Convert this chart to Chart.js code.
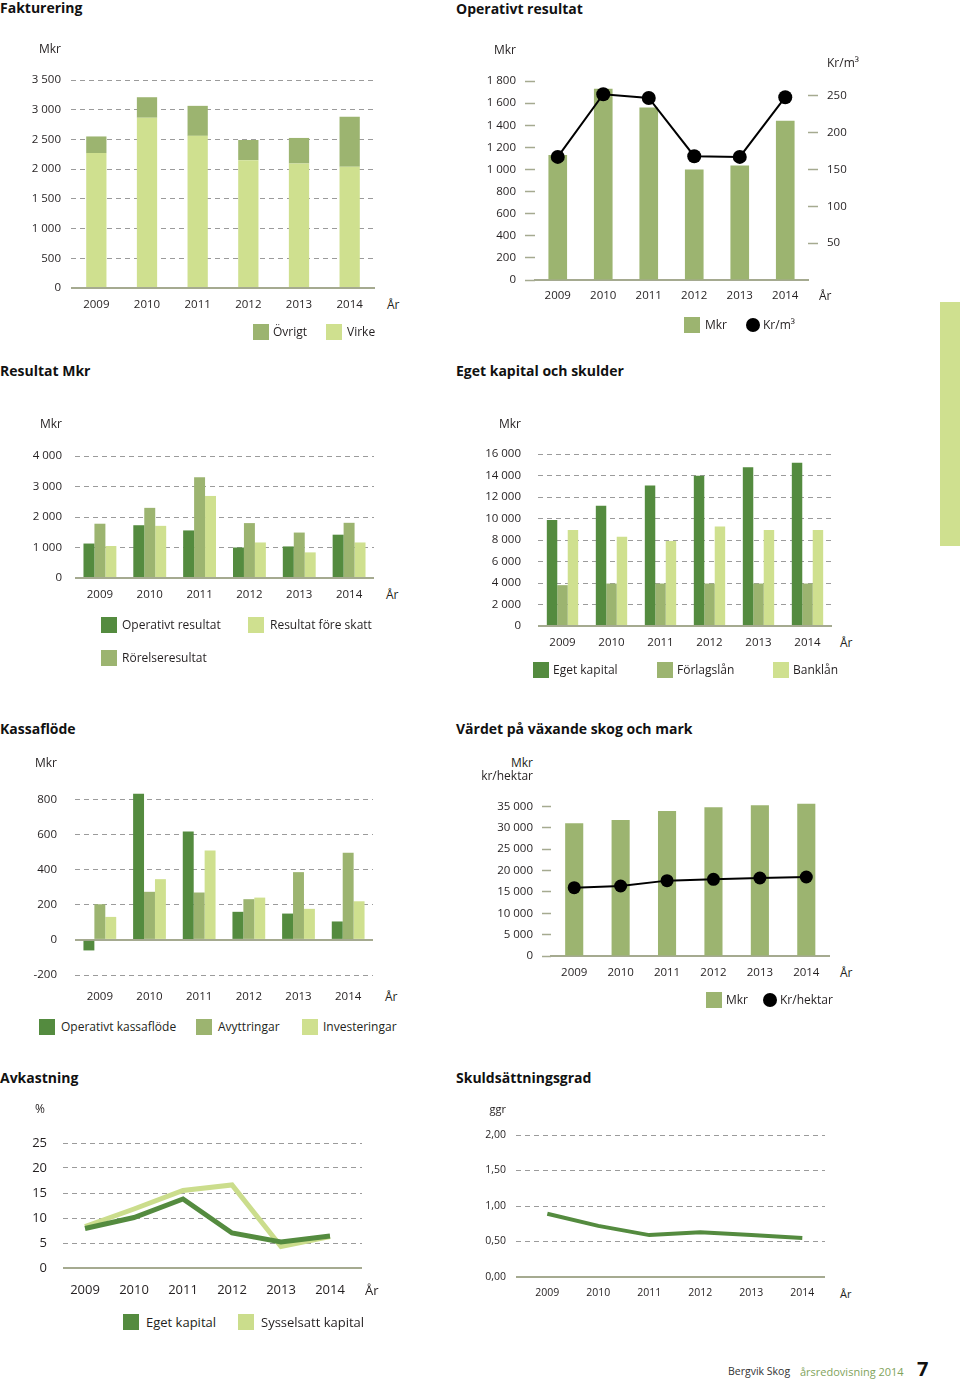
<!DOCTYPE html>
<html><head><meta charset="utf-8">
<script src="https://cdn.jsdelivr.net/npm/chart.js@4.4.1/dist/chart.umd.min.js"></script>
<style>
body{margin:0;width:960px;height:1382px;position:relative;background:#fff;font-family:'Open Sans',sans-serif;color:#231f20;overflow:hidden}
.t{position:absolute;white-space:nowrap;line-height:1;transform:translateY(-50%);font-size:12px}
.t.r{transform:translate(-100%,-50%)}
.h{font-weight:700;font-size:14px;color:#111}
.sq{position:absolute;width:16px;height:16px;transform:translateY(-50%)}
.dot{position:absolute;width:14px;height:14px;border-radius:50%;background:#000;transform:translate(-50%,-50%)}
</style></head><body>
<script>
// ---------- data ----------
const years = ['2009','2010','2011','2012','2013','2014'];
// Fakturering (Mkr)
const faktVirke  = [2270, 2865, 2560, 2150, 2095, 2040];
const faktOvrigt = [280, 345, 505, 340, 430, 840];
const faktTicks  = [0, 500, 1000, 1500, 2000, 2500, 3000, 3500];
// Operativt resultat
const opResMkr   = [1130, 1730, 1560, 1000, 1035, 1440];
const opResKrM3  = [167, 252, 247, 168, 167, 248];
const opResTicksL = [0, 200, 400, 600, 800, 1000, 1200, 1400, 1600, 1800];
const opResTicksR = [50, 100, 150, 200, 250];
// Resultat Mkr
const resOperativt = [1130, 1730, 1560, 1000, 1035, 1420];
const resRorelse   = [1780, 2300, 3300, 1800, 1490, 1810];
const resForeSkatt = [1050, 1710, 2690, 1165, 840, 1165];
const resTicks     = [0, 1000, 2000, 3000, 4000];
// Eget kapital och skulder
const ekEget   = [9870, 11180, 13070, 13980, 14760, 15190];
const ekForlag = [3800, 3950, 3950, 3950, 3950, 3950];
const ekBank   = [8930, 8310, 7910, 9250, 8930, 8930];
const ekTicks  = [0, 2000, 4000, 6000, 8000, 10000, 12000, 14000, 16000];
// Kassaflöde
const kfOperativt     = [-60, 832, 618, 160, 150, 105];
const kfAvyttringar   = [203, 274, 270, 232, 386, 496];
const kfInvesteringar = [131, 346, 509, 241, 177, 220];
const kfTicks = [-200, 0, 200, 400, 600, 800];
// Värdet på växande skog och mark
const vsMkr      = [31020, 31800, 33910, 34770, 35230, 35620];
const vsKrHektar = [15980, 16370, 17620, 17930, 18240, 18470];
const vsTicks    = [0, 5000, 10000, 15000, 20000, 25000, 30000, 35000];
// Avkastning (%)
const avkEget = [7.9, 10.1, 13.8, 7.0, 5.2, 6.4];
const avkSyss = [8.3, 11.8, 15.5, 16.6, 4.3, 6.3];
const avkTicks = [0, 5, 10, 15, 20, 25];
// Skuldsättningsgrad (ggr)
const skuld = [0.89, 0.72, 0.59, 0.63, 0.59, 0.55];
const skuldTicks = [0, 0.5, 1, 1.5, 2];

// ---------- style ----------
const textColor = '#231f20', gridColor = '#9b9b9b', axisColor = '#a5aa90';
const cDark = '#548b3f', cMid = '#9cb470', cLight = '#cfe08f', cLine = '#cbdd8c';
Chart.defaults.font.family = "'Open Sans', sans-serif";
Chart.defaults.color = textColor;

const fmtNum = v => (v < 0 ? '-' : '') + String(Math.abs(v)).replace(/\B(?=(\d{3})+(?!\d))/g, ' ');
const fmtDec = v => v.toFixed(2).replace('.', ',');

function geom(a, right) {
  const Wy = 60, Hx = 40, pt = 30, Wr = right ? 50 : 0, pr = right ? 0 : 6;
  const L = a.left - Wy, T = a.top - pt;
  const W = a.right + Wr + pr - L, H = a.bottom + Hx - T;
  const cv = document.createElement('canvas');
  cv.width = W; cv.height = H;
  cv.style.cssText = `position:absolute;left:${L}px;top:${T}px;width:${W}px;height:${H}px`;
  document.body.appendChild(cv);
  return {cv, Wy, Hx, Wr, pad: {top: pt, right: pr, left: 0, bottom: 0}};
}
function base(g, scales) {
  return {responsive: false, animation: false, devicePixelRatio: 1,
    layout: {padding: g.pad}, plugins: {legend: {display: false}, tooltip: {enabled: false}}, scales};
}
const isZero = c => !!(c.tick && c.tick.value === 0);
function yLin(g, o) {
  const s = {type: 'linear', position: o.position || 'left', min: o.min, max: o.max, stacked: !!o.stacked,
    afterBuildTicks: sc => { sc.ticks = o.ticks.map(v => ({value: v})); },
    afterFit: sc => { sc.width = o.position === 'right' ? g.Wr : g.Wy; },
    ticks: {padding: o.padding, font: {size: o.size || 11.5}, color: textColor, autoSkip: false, callback: o.fmt || fmtNum},
    border: {display: false, dash: c => isZero(c) ? [] : [5, 4]}};
  if (o.style === 'dash') {
    s.grid = {drawTicks: false, color: c => isZero(c) ? axisColor : gridColor, lineWidth: c => isZero(c) ? 2 : 1};
  } else {
    s.grid = {drawOnChartArea: false, drawTicks: true, tickLength: o.tickLength || 10, tickColor: axisColor, tickWidth: 1.5, color: axisColor};
  }
  return s;
}
function xCat(g, o) {
  return {type: 'category', offset: true, stacked: !!o.stacked,
    grid: {display: false, drawTicks: false},
    border: o.axis ? {display: true, color: axisColor, width: 2} : {display: false},
    afterFit: sc => { sc.height = g.Hx; },
    ticks: {padding: o.padding, font: {size: o.size || 11.5}, color: textColor, maxRotation: 0, autoSkip: false}};
}
function xLin(g, o) {
  return {type: 'linear', min: o.min, max: o.max,
    afterBuildTicks: sc => { sc.ticks = years.map((y, i) => ({value: i})); },
    grid: {display: false, drawTicks: false}, border: {display: false},
    afterFit: sc => { sc.height = g.Hx; },
    ticks: {padding: o.padding, font: {size: o.size}, color: textColor, maxRotation: 0, autoSkip: false, callback: v => years[v]}};
}
const pts = arr => arr.map((v, i) => ({x: i, y: v}));

// ---------- text helpers ----------
function txt(x, y, s, cls, align) {
  const d = document.createElement('div');
  d.className = 't' + (cls ? ' ' + cls : '') + (align === 'r' ? ' r' : '');
  d.style.left = x + 'px'; d.style.top = y + 'px'; d.textContent = s;
  document.body.appendChild(d); return d;
}
function sq(x, y, color) {
  const d = document.createElement('div'); d.className = 'sq';
  d.style.cssText = `left:${x}px;top:${y}px;background:${color}`; document.body.appendChild(d);
}
function dot(x, y) {
  const d = document.createElement('div'); d.className = 'dot';
  d.style.left = x + 'px'; d.style.top = y + 'px'; document.body.appendChild(d);
}

// ---------- 1 Fakturering ----------
{
  const g = geom({left: 71, right: 375, top: 80, bottom: 288});
  new Chart(g.cv, {type: 'bar', data: {labels: years, datasets: [
    {label: 'Virke', data: faktVirke, backgroundColor: cLight, barPercentage: 0.4, categoryPercentage: 1},
    {label: 'Övrigt', data: faktOvrigt, backgroundColor: cMid, barPercentage: 0.4, categoryPercentage: 1}]},
    options: base(g, {x: xCat(g, {padding: 10, stacked: true}),
      y: yLin(g, {min: 0, max: 3500, ticks: faktTicks, padding: 10, style: 'dash', stacked: true})})});
  txt(0, 8, 'Fakturering', 'h'); txt(39, 49, 'Mkr'); txt(387, 305, 'År');
  sq(253, 332, cMid); txt(273, 332, 'Övrigt'); sq(326, 332, cLight); txt(347, 332, 'Virke');
}
// ---------- 2 Operativt resultat ----------
{
  const g = geom({left: 535, right: 808, top: 81, bottom: 280}, true);
  new Chart(g.cv, {data: {labels: years, datasets: [
    {type: 'line', label: 'Kr/m³', data: opResKrM3, yAxisID: 'y2', borderColor: '#000', borderWidth: 2,
      pointRadius: 7, pointBackgroundColor: '#000', pointBorderWidth: 0, tension: 0, order: 0},
    {type: 'bar', label: 'Mkr', data: opResMkr, yAxisID: 'y', backgroundColor: cMid, barPercentage: 0.41, categoryPercentage: 1, order: 1}]},
    options: base(g, {x: xCat(g, {padding: 9, axis: true}),
      y: yLin(g, {min: 0, max: 1800, ticks: opResTicksL, padding: 9, style: 'tick'}),
      y2: yLin(g, {position: 'right', min: 0, max: 270, ticks: opResTicksR, padding: 9, style: 'tick'})})});
  txt(456, 9, 'Operativt resultat', 'h'); txt(516, 50, 'Mkr', '', 'r'); txt(827, 63, 'Kr/m³'); txt(819, 296, 'År');
  sq(684, 325, cMid); txt(705, 325, 'Mkr'); dot(753, 325); txt(763, 325, 'Kr/m³');
}
// ---------- 3 Resultat Mkr ----------
{
  const g = geom({left: 75, right: 374, top: 456, bottom: 578});
  const bp = {barPercentage: 1, categoryPercentage: 0.66};
  new Chart(g.cv, {type: 'bar', data: {labels: years, datasets: [
    {label: 'Operativt resultat', data: resOperativt, backgroundColor: cDark, ...bp},
    {label: 'Rörelseresultat', data: resRorelse, backgroundColor: cMid, ...bp},
    {label: 'Resultat före skatt', data: resForeSkatt, backgroundColor: cLight, ...bp}]},
    options: base(g, {x: xCat(g, {padding: 10}),
      y: yLin(g, {min: 0, max: 4000, ticks: resTicks, padding: 13, style: 'dash'})})});
  txt(0, 371, 'Resultat Mkr', 'h'); txt(62, 424, 'Mkr', '', 'r'); txt(386, 595, 'År');
  sq(101, 625, cDark); txt(122, 625, 'Operativt resultat');
  sq(248, 625, cLight); txt(270, 625, 'Resultat före skatt');
  sq(101, 658, cMid); txt(122, 658, 'Rörelseresultat');
}
// ---------- 4 Eget kapital och skulder ----------
{
  const g = geom({left: 538, right: 832, top: 454, bottom: 626});
  const bp = {barPercentage: 1, categoryPercentage: 0.64};
  new Chart(g.cv, {type: 'bar', data: {labels: years, datasets: [
    {label: 'Eget kapital', data: ekEget, backgroundColor: cDark, ...bp},
    {label: 'Förlagslån', data: ekForlag, backgroundColor: cMid, ...bp},
    {label: 'Banklån', data: ekBank, backgroundColor: cLight, ...bp}]},
    options: base(g, {x: xCat(g, {padding: 10}),
      y: yLin(g, {min: 0, max: 16000, ticks: ekTicks, padding: 17, style: 'dash'})})});
  txt(456, 371, 'Eget kapital och skulder', 'h'); txt(521, 424, 'Mkr', '', 'r'); txt(840, 643, 'År');
  sq(533, 670, cDark); txt(553, 670, 'Eget kapital');
  sq(657, 670, cMid); txt(677, 670, 'Förlagslån');
  sq(773, 670, cLight); txt(793, 670, 'Banklån');
}
// ---------- 5 Kassaflöde ----------
{
  const g = geom({left: 75, right: 373, top: 790, bottom: 975});
  const bp = {barPercentage: 1, categoryPercentage: 0.66};
  new Chart(g.cv, {type: 'bar', data: {labels: years, datasets: [
    {label: 'Operativt kassaflöde', data: kfOperativt, backgroundColor: cDark, ...bp},
    {label: 'Avyttringar', data: kfAvyttringar, backgroundColor: cMid, ...bp},
    {label: 'Investeringar', data: kfInvesteringar, backgroundColor: cLight, ...bp}]},
    options: base(g, {x: xCat(g, {padding: 15}),
      y: yLin(g, {min: -200, max: 854, ticks: kfTicks, padding: 18, style: 'dash'})})});
  txt(0, 729, 'Kassaflöde', 'h'); txt(57, 763, 'Mkr', '', 'r'); txt(385, 997, 'År');
  sq(39, 1027, cDark); txt(61, 1027, 'Operativt kassaflöde');
  sq(196, 1027, cMid); txt(218, 1027, 'Avyttringar');
  sq(302, 1027, cLight); txt(323, 1027, 'Investeringar');
}
// ---------- 6 Värdet på växande skog och mark ----------
{
  const g = geom({left: 551, right: 830, top: 802, bottom: 956});
  new Chart(g.cv, {data: {labels: years, datasets: [
    {type: 'line', label: 'Kr/hektar', data: vsKrHektar, borderColor: '#000', borderWidth: 2,
      pointRadius: 6.5, pointBackgroundColor: '#000', pointBorderWidth: 0, tension: 0, order: 0},
    {type: 'bar', label: 'Mkr', data: vsMkr, backgroundColor: cMid, barPercentage: 0.39, categoryPercentage: 1, order: 1}]},
    options: base(g, {x: xCat(g, {padding: 10, axis: true}),
      y: yLin(g, {min: 0, max: 36000, ticks: vsTicks, padding: 9, style: 'tick', tickLength: 9})})});
  txt(456, 729, 'Värdet på växande skog och mark', 'h'); txt(533, 763, 'Mkr', '', 'r'); txt(533, 776, 'kr/hektar', '', 'r'); txt(840, 973, 'År');
  sq(706, 1000, cMid); txt(726, 1000, 'Mkr'); dot(770, 1000); txt(780, 1000, 'Kr/hektar');
}
// ---------- 7 Avkastning ----------
{
  const g = geom({left: 63, right: 362, top: 1143, bottom: 1268});
  new Chart(g.cv, {type: 'line', data: {datasets: [
    {label: 'Eget kapital', data: pts(avkEget), borderColor: cDark, borderWidth: 5, pointRadius: 0, tension: 0, order: 0},
    {label: 'Sysselsatt kapital', data: pts(avkSyss), borderColor: cLine, borderWidth: 5, pointRadius: 0, tension: 0, order: 1}]},
    options: base(g, {x: xLin(g, {min: -0.449, max: 5.653, padding: 14, size: 13}),
      y: yLin(g, {min: 0, max: 25, ticks: avkTicks, padding: 16, size: 13, style: 'dash'})})});
  txt(0, 1078, 'Avkastning', 'h'); txt(35, 1109, '%', ''); txt(365, 1290, 'År').style.fontSize = '13px';
  sq(123, 1322, cDark); txt(146, 1322, 'Eget kapital').style.fontSize = '13px';
  sq(238, 1322, cLine); txt(261, 1322, 'Sysselsatt kapital').style.fontSize = '13px';
}
// ---------- 8 Skuldsättningsgrad ----------
{
  const g = geom({left: 516, right: 825, top: 1135, bottom: 1277});
  new Chart(g.cv, {type: 'line', data: {datasets: [
    {label: 'Skuldsättningsgrad', data: pts(skuld), borderColor: cDark, borderWidth: 4, pointRadius: 0, tension: 0}]},
    options: base(g, {x: xLin(g, {min: -0.614, max: 5.445, padding: 10, size: 10.5}),
      y: yLin(g, {min: 0, max: 2, ticks: skuldTicks, padding: 10, size: 10.5, style: 'dash', fmt: fmtDec})})});
  txt(456, 1078, 'Skuldsättningsgrad', 'h'); txt(506, 1108, 'ggr', '', 'r').style.fontSize = '11px';
  txt(840, 1293, 'År').style.fontSize = '11px';
}
// ---------- page furniture ----------
{
  const bar = document.createElement('div');
  bar.style.cssText = `position:absolute;left:940px;top:302px;width:20px;height:244px;background:${cLight}`;
  document.body.appendChild(bar);
  const f1 = txt(728, 1371, 'Bergvik Skog'); f1.style.fontSize = '10.5px'; f1.style.color = '#333';
  const f2 = txt(800, 1371, 'årsredovisning 2014'); f2.style.fontSize = '11px'; f2.style.color = '#7fa35b';
  const f3 = txt(917, 1369, '7'); f3.style.fontSize = '20px'; f3.style.fontWeight = '700'; f3.style.color = '#111';
}
</script>
</body></html>
